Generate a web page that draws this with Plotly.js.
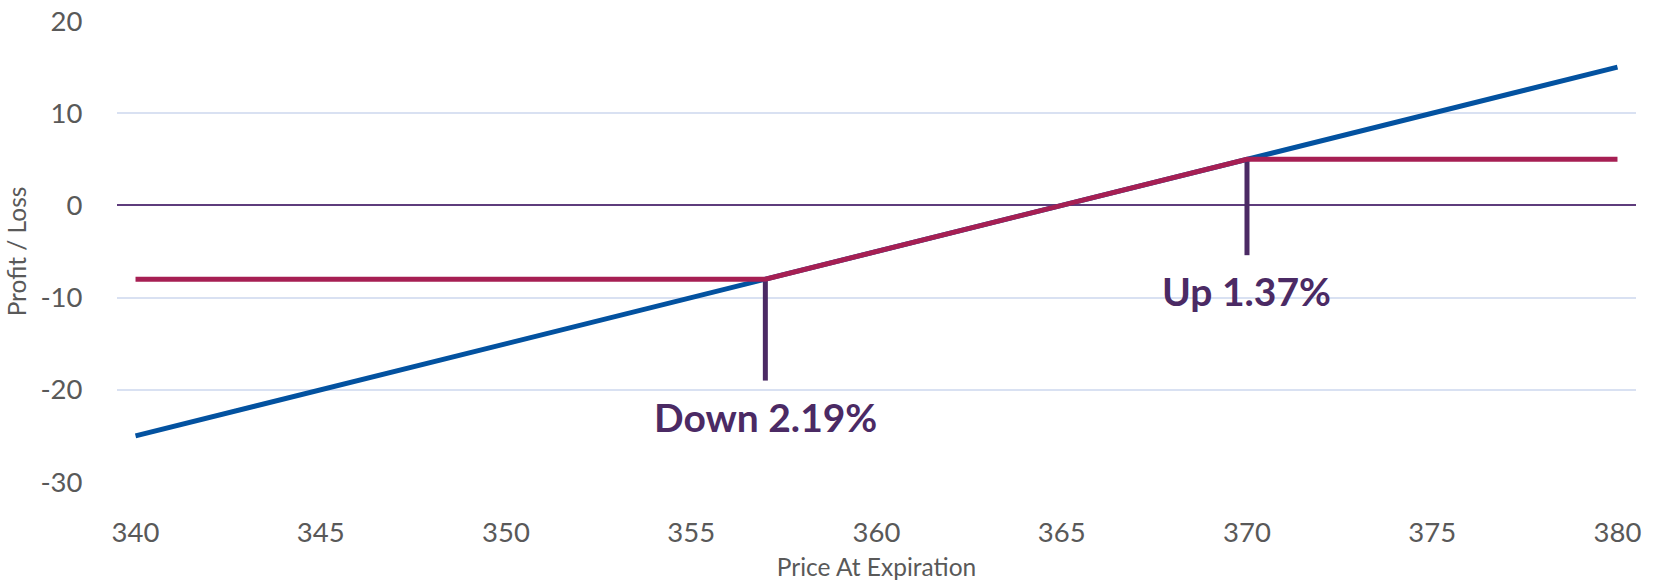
<!DOCTYPE html>
<html>
<head>
<meta charset="utf-8">
<script src="https://cdn.plot.ly/plotly-3.0.1.min.js"></script>
<style>
  html, body { margin: 0; padding: 0; background: #fff; }
  #chart { width: 1654px; height: 581px; }
</style>
</head>
<body>
<div id="chart"></div>
<script>
// Stock position: profit / loss against the price at expiration
const stockPrices = [340, 380];
const stockPnl = [-25, 15];

// Collar position: loss floored below 357, gain capped above 370
const collarPrices = [340, 357, 370, 380];
const collarPnl = [-8, -8, 5, 5];

// Break points and their callouts
const downPrice = 357;
const downPnl = -8;
const downMarkerEnd = -19;
const downLabel = 'Down 2.19%';
const downLabelY = -23;

const upPrice = 370;
const upPnl = 5;
const upMarkerEnd = -5.4;
const upLabel = 'Up 1.37%';
const upLabelY = -9.3;

const xTicks = [340, 345, 350, 355, 360, 365, 370, 375, 380];
const yTicks = [-30, -20, -10, 0, 10, 20];

const purple = '#4B2A64';
const family = 'Lato, "Open Sans", sans-serif';
const tickFont = { family: family, size: 27.5, color: '#595959' };
const titleFont = { family: family, size: 24.5, color: '#595959' };
const calloutFont = { family: family, size: 39, color: purple, weight: 'bold' };

const traces = [
  {
    x: [downPrice, downPrice], y: [downPnl, downMarkerEnd],
    mode: 'lines', line: { color: purple, width: 5 }, hoverinfo: 'skip'
  },
  {
    x: [upPrice, upPrice], y: [upPnl, upMarkerEnd],
    mode: 'lines', line: { color: purple, width: 5 }, hoverinfo: 'skip'
  },
  {
    x: stockPrices, y: stockPnl, name: 'Stock',
    mode: 'lines', line: { color: '#0352A0', width: 5 }
  },
  {
    x: collarPrices, y: collarPnl, name: 'Collar',
    mode: 'lines', line: { color: '#A61F53', width: 5 }
  }
];

const layout = {
  width: 1654, height: 581,
  showlegend: false,
  paper_bgcolor: '#ffffff', plot_bgcolor: '#ffffff',
  margin: { l: 117, r: 18, t: 21, b: 99 },
  font: { family: family, color: '#595959' },
  xaxis: {
    range: [339.5, 380.5],
    tickvals: xTicks, ticktext: xTicks.map(String),
    showgrid: false, zeroline: false, showline: false,
    ticks: 'outside', ticklen: 26, tickcolor: 'rgba(0,0,0,0)',
    tickfont: tickFont,
    title: { text: 'Price At Expiration', font: titleFont, standoff: 12 }
  },
  yaxis: {
    range: [-30, 20],
    tickvals: yTicks, ticktext: yTicks.map(String),
    showgrid: true, gridcolor: '#D9E1F2', gridwidth: 2,
    zeroline: true, zerolinecolor: '#5E3C7C', zerolinewidth: 2,
    showline: false,
    ticks: 'outside', ticklen: 28, tickcolor: 'rgba(0,0,0,0)',
    tickfont: tickFont,
    title: { text: 'Profit / Loss', font: titleFont, standoff: 6 }
  },
  annotations: [
    {
      x: downPrice, y: downLabelY, xref: 'x', yref: 'y', text: downLabel,
      showarrow: false, xanchor: 'center', yanchor: 'middle', font: calloutFont
    },
    {
      x: upPrice, y: upLabelY, xref: 'x', yref: 'y', text: upLabel,
      showarrow: false, xanchor: 'center', yanchor: 'middle', font: calloutFont
    }
  ]
};

Plotly.newPlot('chart', traces, layout, { staticPlot: true, displayModeBar: false });
</script>
</body>
</html>
